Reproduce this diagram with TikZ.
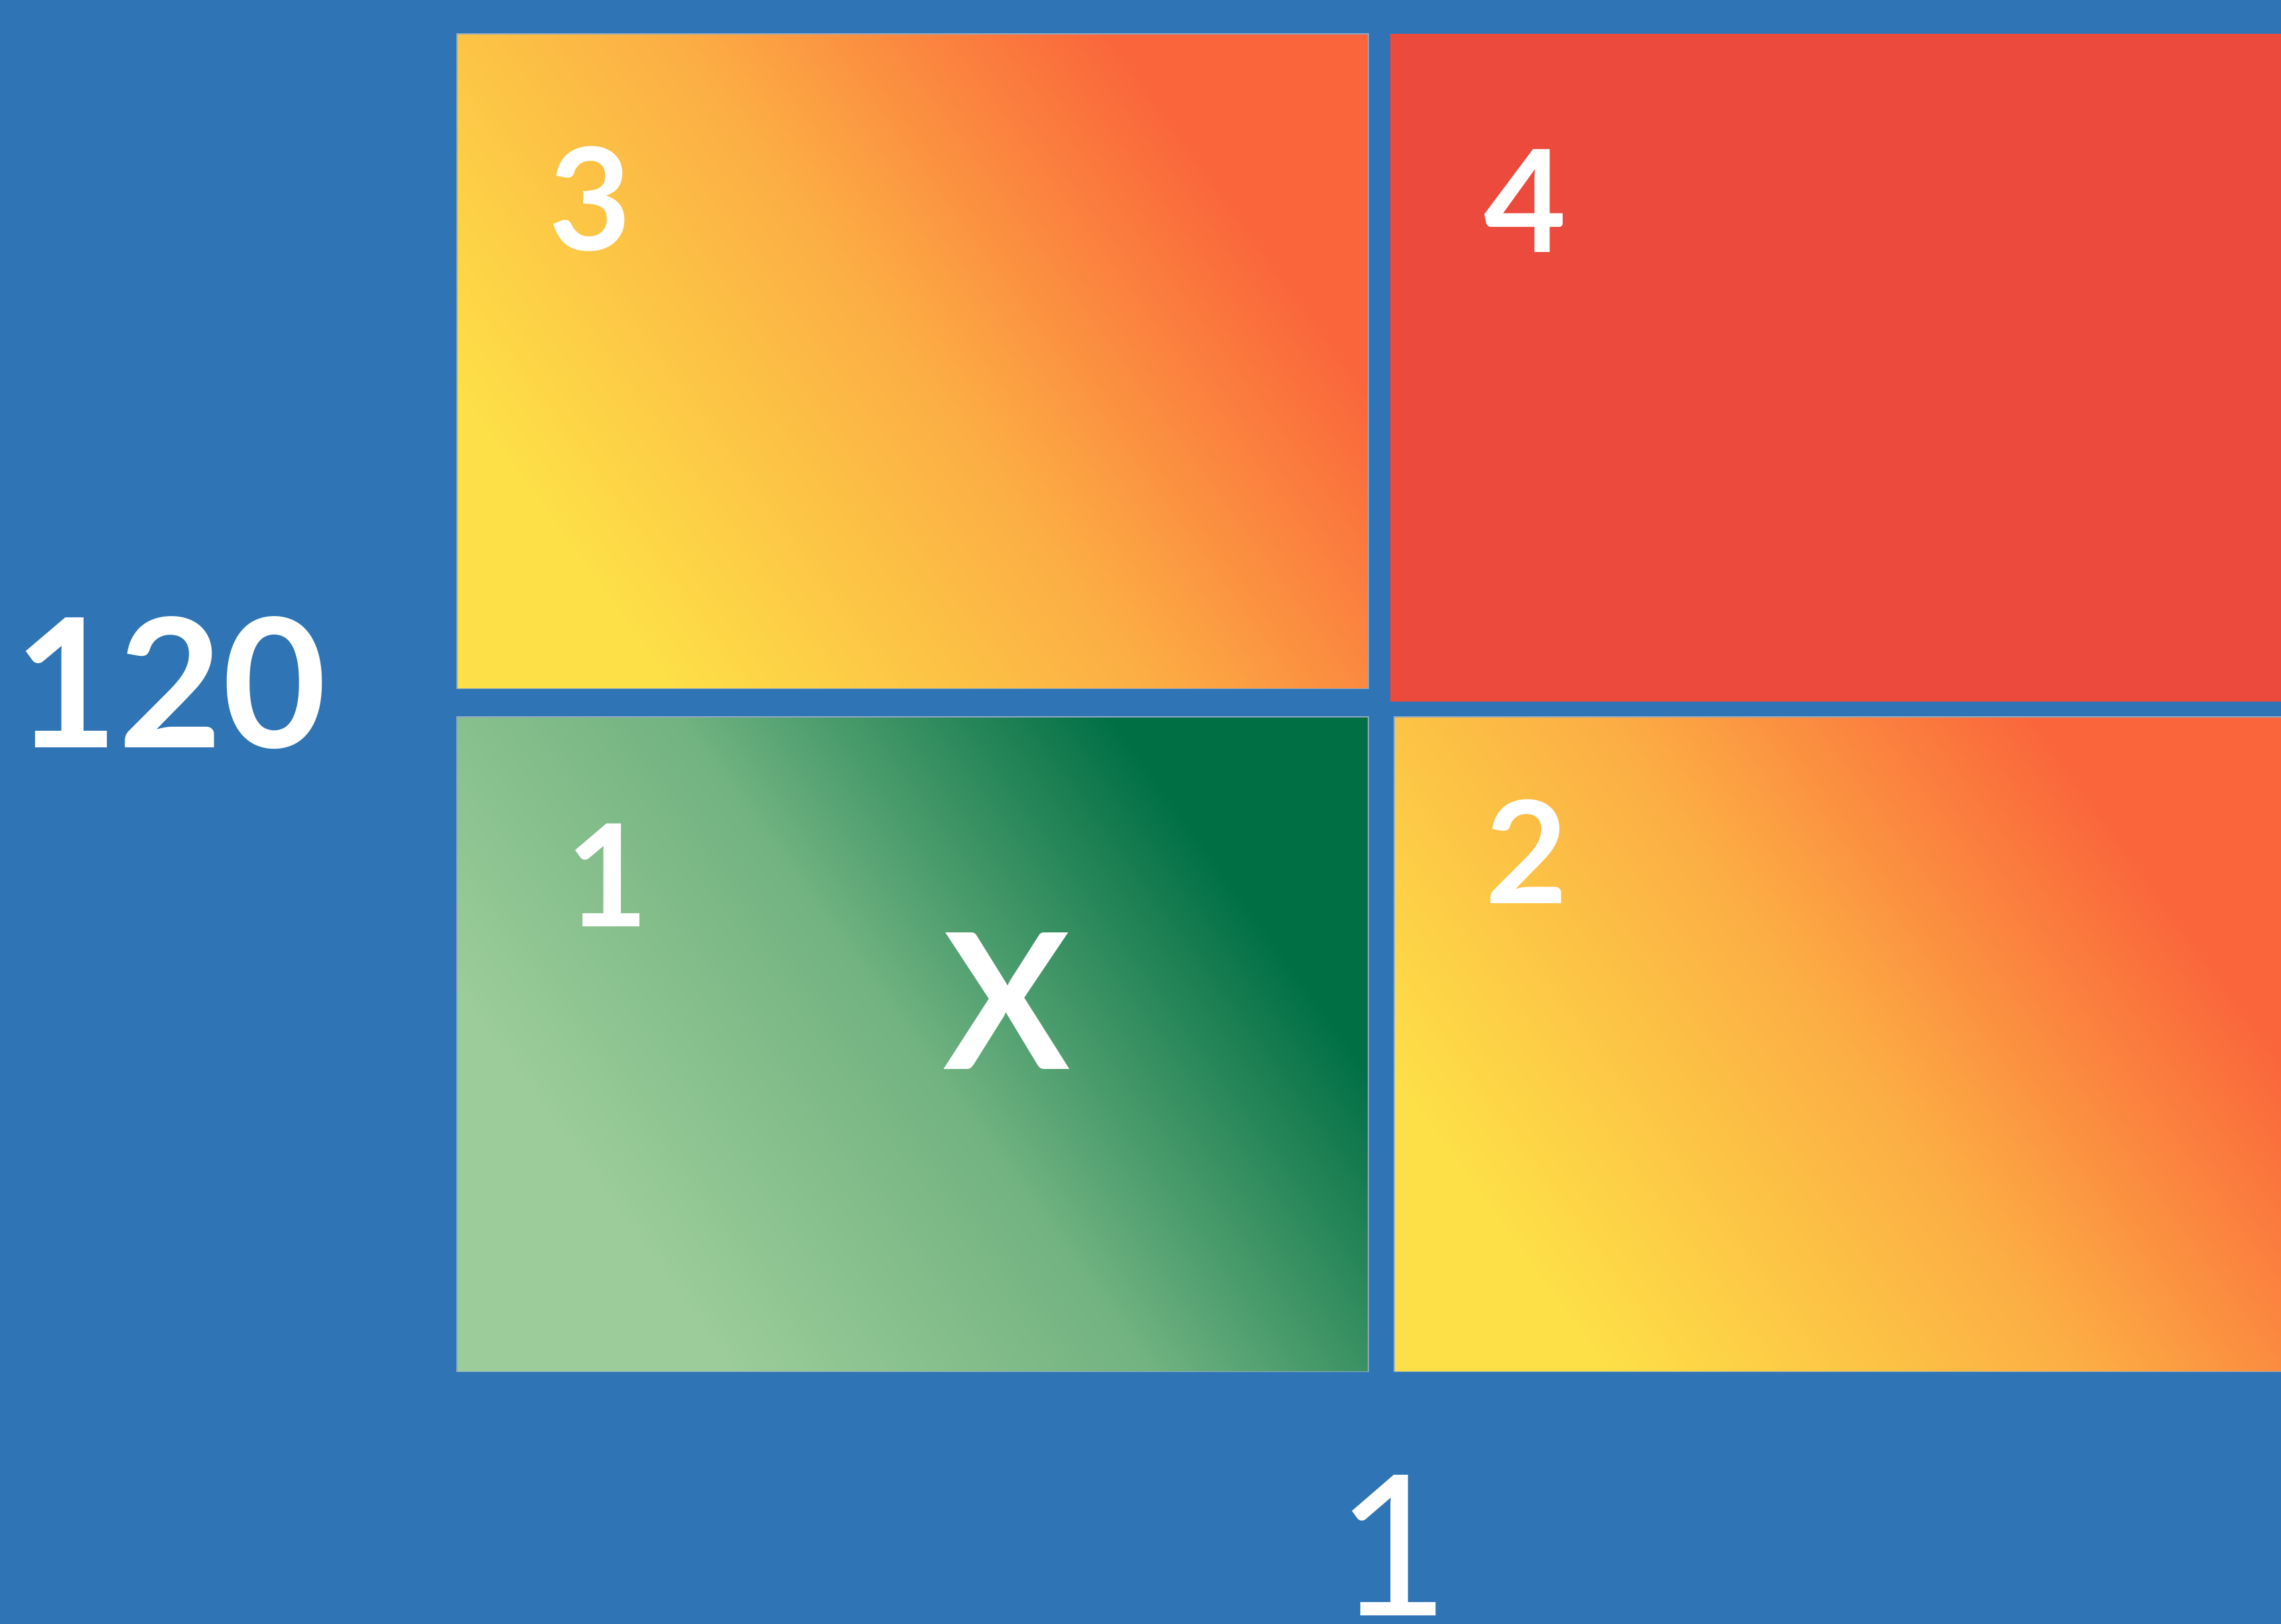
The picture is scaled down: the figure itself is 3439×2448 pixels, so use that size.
\documentclass[tikz,border=0pt]{standalone}
\usepackage{fontspec}
\setmainfont{Lato}
\definecolor{bgblue}{HTML}{2F75B5}
\definecolor{sunyellow}{HTML}{FDDF47}
\definecolor{sunorange}{HTML}{FCAE44}
\definecolor{sunred}{HTML}{FA653B}
\definecolor{flatred}{HTML}{EB4A3D}
\definecolor{leafpale}{HTML}{9BCC99}
\definecolor{leafmid}{HTML}{72B381}
\definecolor{leafdark}{HTML}{006F44}
\definecolor{rim}{HTML}{8FA9C4}
\pgfdeclarehorizontalshading{warm}{100bp}{color(0bp)=(sunyellow); color(26bp)=(sunyellow); color(50bp)=(sunorange); color(72bp)=(sunred); color(100bp)=(sunred)}
\pgfdeclarehorizontalshading{leaf}{100bp}{color(0bp)=(leafpale); color(29bp)=(leafpale); color(50bp)=(leafmid); color(72bp)=(leafdark); color(100bp)=(leafdark)}

\begin{document}
\begin{tikzpicture}[
    x=0.01cm, y=-0.01cm,
    tile/.style={inner sep=0, outer sep=0, anchor=north west, minimum height=9.87cm},
    warmtile/.style={tile, draw=rim, line width=0.015cm, shading=warm, shading angle=36},
    leaftile/.style={tile, draw=rim, line width=0.015cm, shading=leaf, shading angle=36},
    redtile/.style={tile, fill=flatred},
    tag/.style={text=white, inner sep=0, anchor=base, font=\fontsize{61}{61}\selectfont\bfseries},
    axislbl/.style={text=white, inner sep=0, anchor=base},
  ]
  \useasboundingbox (0,0) rectangle (3439,2448);
  \fill[bgblue] (-10,-10) rectangle (3449,2458);

  % four tiles
  \node[warmtile, minimum width=13.73cm] (t3) at (689,51)   {};
  \node[redtile,  minimum width=13.53cm, minimum height=10.06cm] (t4) at (2096,51) {};
  \node[leaftile, minimum width=13.73cm] (t1) at (689,1081) {};
  \node[warmtile, minimum width=13.47cm] (t2) at (2102,1081) {};

  \node[tag] (n3) at (890,377)   {3};
  \node[tag] (n4) at (2300,380)  {4};
  \node[tag] (n1) at (916,1397)  {1};
  \node[tag] (n2) at (2302,1362) {2};
  \node[tag, font=\fontsize{81}{81}\selectfont\bfseries] (nx) at (1518,1612) {X};

  % axis values
  \node[axislbl, font=\fontsize{77}{77}\selectfont\bfseries] (yval) at (257,1127) {120};
  \node[axislbl, font=\fontsize{84}{84}\selectfont] (xval) at (2100,2436) {1};
\end{tikzpicture}
\end{document}
